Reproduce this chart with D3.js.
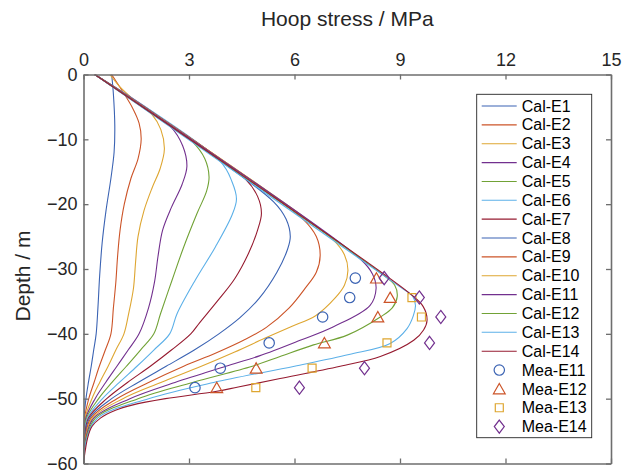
<!DOCTYPE html>
<html>
<head>
<meta charset="utf-8">
<script src="https://cdn.jsdelivr.net/npm/d3@7"></script>
<style>
  html, body { margin: 0; padding: 0; background: #fff; }
  svg { display: block; }
</style>
</head>
<body>
<svg id="chart" width="641" height="471"></svg>
<script>
// ---- Calculated hoop stress profiles: [stress (MPa), depth (m)] ----
const calE1 = [[0.80,0],[0.85,-3],[0.89,-8],[0.87,-12],[0.78,-16],[0.64,-21],[0.53,-26],[0.46,-31],[0.41,-36],[0.36,-40],[0.29,-42.5],[0.22,-45],[0.14,-47.5],[0.07,-50],[0.015,-53],[0.004,-56],[0,-60]];
const calE2 = [[0.80,0],[1.10,-2.5],[1.38,-5],[1.58,-7.5],[1.64,-10],[1.55,-13],[1.35,-16],[1.16,-20],[1.04,-24],[0.97,-28],[0.92,-32],[0.85,-36],[0.78,-40],[0.62,-42.5],[0.45,-45],[0.30,-47.5],[0.15,-50],[0.03,-53],[0.007,-56],[0,-60]];
const calE3 = [[0.75,0],[1.05,-2],[1.45,-4],[1.95,-6.2],[2.20,-8.5],[2.30,-11.5],[2.18,-14.5],[1.95,-17.5],[1.72,-21],[1.55,-25],[1.48,-29],[1.42,-33],[1.28,-37],[1.15,-40],[0.92,-42.5],[0.70,-45],[0.46,-47.5],[0.24,-50],[0.045,-53],[0.011,-56],[0,-60]];
const calE4 = [[0.32,0],[2.47,-8],[2.82,-11],[2.94,-14.2],[2.80,-17],[2.50,-20.5],[2.25,-24],[2.12,-28],[2.02,-32],[1.85,-36],[1.58,-40],[1.27,-42.5],[0.95,-45],[0.63,-47.5],[0.33,-50],[0.065,-53],[0.016,-56],[0,-60]];
const calE5 = [[0.32,0],[3.10,-10.4],[3.45,-13],[3.57,-15.8],[3.50,-18],[3.23,-21.4],[2.85,-26.6],[2.52,-31.7],[2.19,-36.9],[2.00,-40],[1.62,-42.5],[1.22,-45],[0.81,-47.5],[0.43,-50],[0.085,-53],[0.021,-56],[0,-60]];
const calE6 = [[0.32,0],[3.89,-13.4],[4.22,-16.5],[4.35,-19.2],[4.23,-21.6],[3.75,-26.6],[3.18,-31.7],[2.66,-36.9],[2.45,-40],[2.00,-42.5],[1.52,-45],[1.02,-47.5],[0.54,-50],[0.11,-53],[0.028,-56],[0,-60]];
const calE7 = [[0.32,0],[4.60,-16.1],[4.95,-18.8],[5.06,-21.4],[4.95,-24],[4.70,-27.5],[4.30,-31.5],[3.80,-35],[3.30,-38.3],[3.05,-40],[2.50,-42.5],[1.90,-45],[1.25,-47.5],[0.66,-50],[0.14,-53],[0.035,-56],[0,-60]];
const calE8 = [[0.32,0],[5.40,-19.6],[5.76,-22.3],[5.88,-25],[5.80,-27],[5.50,-30.5],[5.00,-34.5],[4.45,-37.5],[3.85,-40],[3.15,-42.5],[2.35,-45],[1.55,-47.5],[0.80,-50],[0.17,-53],[0.043,-56],[0,-60]];
const calE9 = [[0.32,0],[6.24,-22.3],[6.62,-25],[6.73,-27.9],[6.62,-30.5],[6.30,-33],[5.85,-36],[5.20,-39],[4.55,-41],[3.75,-43],[2.85,-45],[1.85,-47.5],[0.95,-50],[0.21,-53],[0.052,-56],[0,-60]];
const calE10 = [[0.32,0],[7.10,-25.5],[7.42,-27.8],[7.52,-30.2],[7.42,-32.5],[7.15,-34.5],[6.60,-37.2],[5.90,-38.9],[5.15,-40.7],[4.30,-42.8],[3.35,-45],[2.20,-47.5],[1.12,-50],[0.25,-53],[0.062,-56],[0,-60]];
const calE11 = [[0.32,0],[7.88,-28.5],[8.22,-30.8],[8.32,-33],[8.15,-35.6],[7.11,-38.9],[6.16,-41],[5.00,-43.4],[4.05,-45],[2.60,-47.5],[1.32,-50],[0.29,-53],[0.072,-56],[0,-60]];
const calE12 = [[0.32,0],[8.49,-30.8],[8.85,-32.5],[8.92,-34.3],[8.78,-36],[8.44,-37.4],[7.50,-40.2],[6.54,-41.7],[5.59,-43.5],[4.80,-45],[3.10,-47.5],[1.55,-50],[0.34,-53],[0.085,-56],[0,-60]];
const calE13 = [[0.32,0],[9.01,-32.8],[9.36,-34.2],[9.44,-35.6],[9.38,-37.2],[9.20,-39.2],[8.72,-41.5],[7.55,-43.2],[6.00,-45],[3.70,-47.5],[1.85,-50],[0.40,-53],[0.10,-56],[0,-60]];
const calE14 = [[0.32,0],[9.33,-34],[9.66,-35.8],[9.77,-37.9],[9.67,-39.4],[9.39,-41],[8.44,-43.5],[7.30,-45],[5.59,-46.9],[4.40,-48.2],[3.75,-48.9],[2.33,-50],[1.38,-51],[0.91,-51.8],[0.48,-53],[0.24,-54.3],[0.12,-56],[0.05,-58],[0,-60]];

// ---- Measured hoop stress (MPa) at the gauge depths (m) ----
const meaDepth = [-31.4, -34.4, -37.4, -41.4, -45.3, -48.3];
const meaE11 = [7.73, 7.57, 6.80, 5.28, 3.89, 3.17];
const meaE12 = [8.33, 8.72, 8.37, 6.85, 4.91, 3.79];
const meaE13 = [null, 9.34, 9.61, 8.63, 6.50, 4.90];
const meaE14 = [8.55, 9.55, 10.16, 9.84, 7.99, 6.14];

// ---- Labels and ticks ----
const calNames = ["Cal-E1","Cal-E2","Cal-E3","Cal-E4","Cal-E5","Cal-E6","Cal-E7",
                  "Cal-E8","Cal-E9","Cal-E10","Cal-E11","Cal-E12","Cal-E13","Cal-E14"];
const meaNames = ["Mea-E11","Mea-E12","Mea-E13","Mea-E14"];
const xTicks = [0, 3, 6, 9, 12, 15];
const yTicks = [0, -10, -20, -30, -40, -50, -60];
const xTitle = "Hoop stress / MPa";
const yTitle = "Depth / m";

// ---- Styling ----
const palette = ["#3B63B3", "#CC5428", "#DEA631", "#72308E", "#71A236", "#5CB0E8", "#961B30"];
const meaColors = [palette[0], palette[1], palette[2], palette[3]];
const meaShapes = ["circle", "triangle", "square", "diamond"];
const FONT = "'Liberation Sans', Arial, Helvetica, sans-serif";
const AXIS_COLOR = "#6e6e6e";
const TEXT_COLOR = "#262626";

const calSeries = [calE1, calE2, calE3, calE4, calE5, calE6, calE7,
                   calE8, calE9, calE10, calE11, calE12, calE13, calE14];
const meaSeries = [meaE11, meaE12, meaE13, meaE14];

const plot = { left: 83.5, right: 611, top: 74.5, bottom: 463.5 };

const svg = d3.select("#chart");
const x = d3.scaleLinear().domain([0, 15]).range([plot.left, plot.right]);
const y = d3.scaleLinear().domain([-60, 0]).range([plot.bottom, plot.top]);

svg.append("defs").append("clipPath").attr("id", "plot-clip")
  .append("rect")
  .attr("x", plot.left).attr("y", plot.top)
  .attr("width", plot.right - plot.left).attr("height", plot.bottom - plot.top);

// Calculated profiles
const line = d3.line()
  .x(d => x(d[0]))
  .y(d => y(d[1]))
  .curve(d3.curveCatmullRom.alpha(0.5));

svg.append("g").attr("clip-path", "url(#plot-clip)")
  .selectAll("path")
  .data(calSeries)
  .join("path")
  .attr("d", line)
  .attr("fill", "none")
  .attr("stroke", (d, i) => palette[i % palette.length])
  .attr("stroke-width", 1.1);

// Marker shapes
function markerPath(shape) {
  switch (shape) {
    case "circle":   return d3.symbol(d3.symbolCircle, Math.PI * 5.2 * 5.2)();
    case "triangle": return "M0,-5.4L5.9,4.9L-5.9,4.9Z";
    case "square":   return "M-4,-4H4V4H-4Z";
    case "diamond":  return "M0,-6.6L5,0L0,6.6L-5,0Z";
  }
}

// Measured points
meaSeries.forEach((vals, k) => {
  const pts = vals.map((v, j) => [v, meaDepth[j]]).filter(p => p[0] !== null);
  svg.append("g")
    .selectAll("path")
    .data(pts)
    .join("path")
    .attr("transform", d => `translate(${x(d[0])},${y(d[1])})`)
    .attr("d", markerPath(meaShapes[k]))
    .attr("fill", "none")
    .attr("stroke", meaColors[k])
    .attr("stroke-width", 1.2);
});

// Axes (ticks point inward on all four sides)
const axisTop = svg.append("g")
  .attr("transform", `translate(0,${plot.top})`)
  .call(d3.axisTop(x).tickValues(xTicks).tickSize(-5).tickSizeOuter(0).tickPadding(8.5));
const axisBottom = svg.append("g")
  .attr("transform", `translate(0,${plot.bottom})`)
  .call(d3.axisBottom(x).tickValues(xTicks).tickSize(-5).tickSizeOuter(0).tickFormat(""));
const axisLeft = svg.append("g")
  .attr("transform", `translate(${plot.left},0)`)
  .call(d3.axisLeft(y).tickValues(yTicks).tickSize(-5).tickSizeOuter(0).tickPadding(6));
const axisRight = svg.append("g")
  .attr("transform", `translate(${plot.right},0)`)
  .call(d3.axisRight(y).tickValues(yTicks).tickSize(-5).tickSizeOuter(0).tickFormat(""));

[axisTop, axisBottom, axisLeft, axisRight].forEach(g => {
  g.select(".domain").attr("stroke", AXIS_COLOR).attr("stroke-width", 1.6);
  g.selectAll(".tick line").attr("stroke", AXIS_COLOR).attr("stroke-width", 1.3);
  g.selectAll(".tick text")
    .attr("fill", TEXT_COLOR)
    .style("font-family", FONT)
    .style("font-size", "18px");
});

// Axis titles
svg.append("text")
  .attr("x", (plot.left + plot.right) / 2)
  .attr("y", 26)
  .attr("text-anchor", "middle")
  .attr("fill", TEXT_COLOR)
  .style("font-family", FONT)
  .style("font-size", "21px")
  .text(xTitle);

svg.append("text")
  .attr("transform", "translate(30,276) rotate(-90)")
  .attr("text-anchor", "middle")
  .attr("fill", TEXT_COLOR)
  .style("font-family", FONT)
  .style("font-size", "21px")
  .text(yTitle);

// Legend
const legend = { x: 476.7, y: 94.3, w: 115, h: 343.4, first: 106, step: 18.86 };
const lg = svg.append("g");
lg.append("rect")
  .attr("x", legend.x).attr("y", legend.y)
  .attr("width", legend.w).attr("height", legend.h)
  .attr("fill", "#fff")
  .attr("stroke", TEXT_COLOR)
  .attr("stroke-width", 0.9);

const entries = calNames.map((n, i) => ({ name: n, type: "line", color: palette[i % palette.length] }))
  .concat(meaNames.map((n, k) => ({ name: n, type: meaShapes[k], color: meaColors[k] })));

const rows = lg.selectAll("g.entry")
  .data(entries)
  .join("g")
  .attr("class", "entry")
  .attr("transform", (d, i) => `translate(0,${legend.first + i * legend.step})`);

rows.filter(d => d.type === "line").append("line")
  .attr("x1", legend.x + 5).attr("x2", legend.x + 40)
  .attr("stroke", d => d.color)
  .attr("stroke-width", 1.1);

rows.filter(d => d.type !== "line").append("path")
  .attr("transform", `translate(${legend.x + 22.6},0)`)
  .attr("d", d => markerPath(d.type))
  .attr("fill", "none")
  .attr("stroke", d => d.color)
  .attr("stroke-width", 1.2);

rows.append("text")
  .attr("x", legend.x + 45)
  .attr("dy", "0.35em")
  .attr("fill", "#000")
  .style("font-family", FONT)
  .style("font-size", "16px")
  .text(d => d.name);
</script>
</body>
</html>
